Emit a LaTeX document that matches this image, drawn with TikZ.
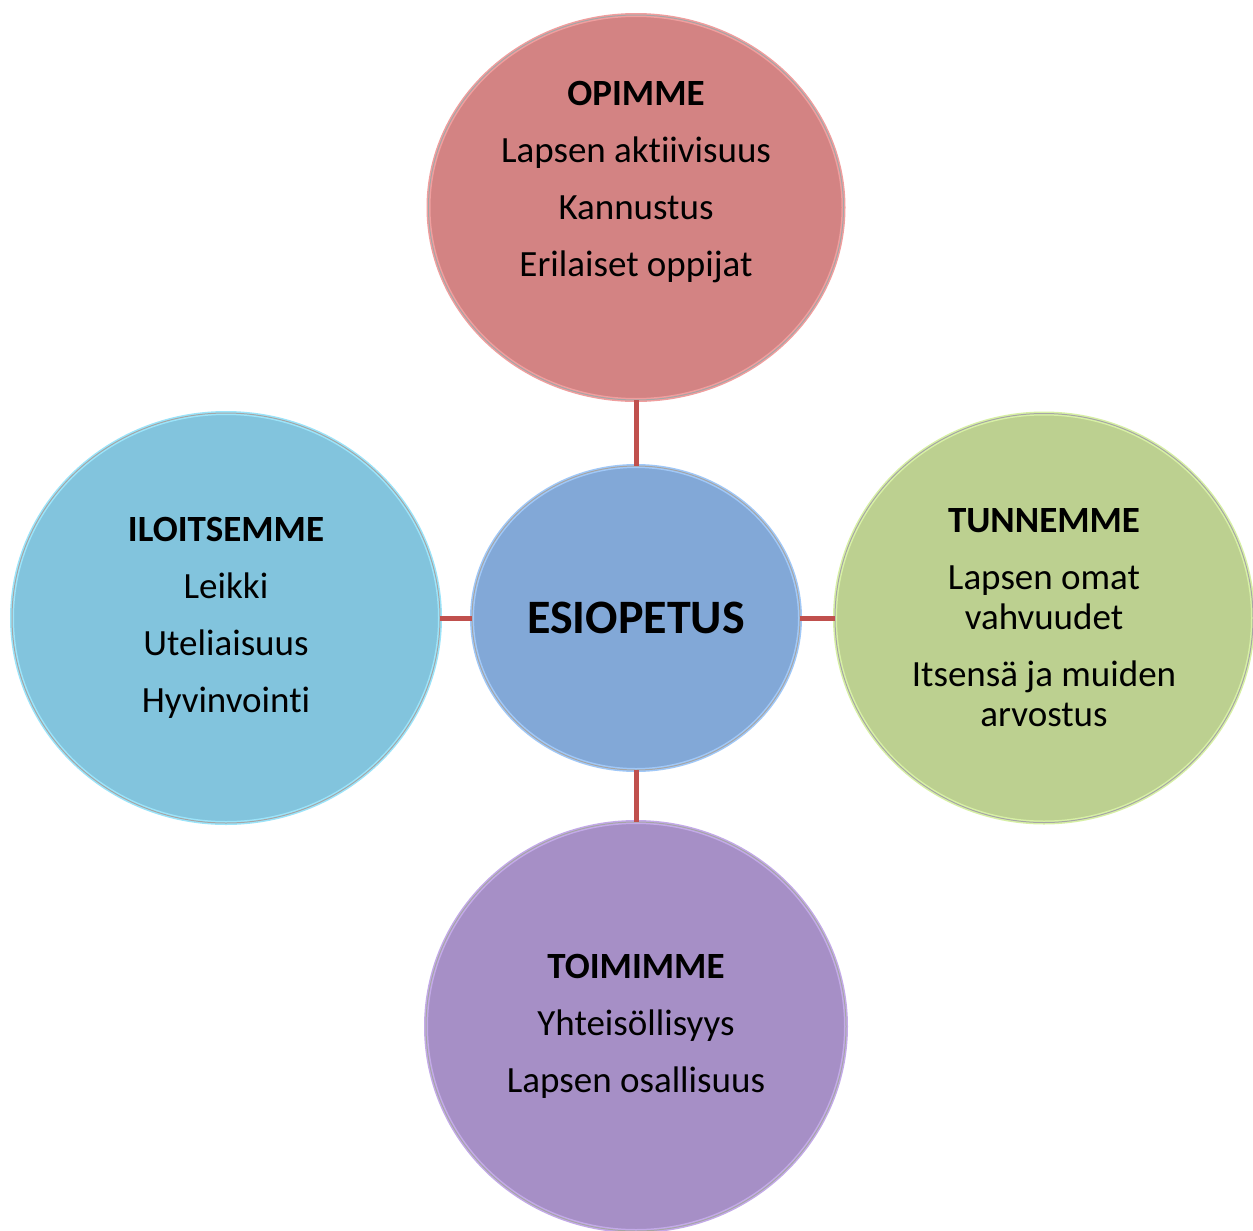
\documentclass[tikz,border=0pt]{standalone}
\usepackage{fontspec}
\setmainfont{Carlito}[Ligatures=NoCommon]
\usetikzlibrary{shapes.geometric,positioning}

\definecolor{opimmefill}{RGB}{211,131,131}
\definecolor{opimmeedge}{RGB}{240,158,158}
\definecolor{esiofill}{RGB}{130,168,215}
\definecolor{esioedge}{RGB}{160,200,248}
\definecolor{iloitfill}{RGB}{130,196,221}
\definecolor{iloitedge}{RGB}{155,228,250}
\definecolor{tunnefill}{RGB}{188,208,144}
\definecolor{tunneedge}{RGB}{215,240,165}
\definecolor{toimifill}{RGB}{166,143,198}
\definecolor{toimiedge}{RGB}{195,170,232}
\definecolor{linkred}{RGB}{192,80,77}

\begin{document}
\begin{tikzpicture}[node distance=16pt]
  \tikzstyle{bubble}=[ellipse,inner sep=0pt,outer sep=0pt,align=center,
    line width=2pt,font=\fontsize{18.5}{20}\selectfont]
  \tikzstyle{rim}=[postaction={draw=black!35,line width=0.5pt}]
  \tikzstyle{link}=[draw=linkred,line width=2.5pt]

  \useasboundingbox (0,0) rectangle (626.5pt,-615.5pt);

    \node [bubble,rim,fill=esiofill,draw=esioedge,minimum width=164pt,minimum height=152pt,
        font=\fontsize{24}{28}\selectfont\bfseries] (esiopetus) at (318pt,-309pt) {ESIOPETUS}; %keskus
    \node [bubble,rim,fill=opimmefill,draw=opimmeedge,minimum width=207.5pt,minimum height=192.5pt]
        (opimme) [above=33pt of esiopetus]
        {\textbf{OPIMME}\\[8.5pt]Lapsen aktiivisuus\\[8.5pt]Kannustus\\[8.5pt]Erilaiset oppijat\\[8.5pt]~};
    \node [bubble,rim,fill=iloitfill,draw=iloitedge,minimum width=214pt,minimum height=205pt]
        (iloitsemme) [left=16pt of esiopetus]
        {\textbf{ILOITSEMME}\\[8.5pt]Leikki\\[8.5pt]Uteliaisuus\\[8.5pt]Hyvinvointi};
    \node [bubble,rim,fill=tunnefill,draw=tunneedge,minimum width=209pt,minimum height=204.5pt]
        (tunnemme) [right=17.5pt of esiopetus]
        {\textbf{TUNNEMME}\\[8.5pt]Lapsen omat\\vahvuudet\\[8.5pt]Itsensä ja muiden\\arvostus};
    \node [bubble,rim,fill=toimifill,draw=toimiedge,minimum width=210pt,minimum height=204.5pt]
        (toimimme) [below=26pt of esiopetus]
        {\textbf{TOIMIMME}\\[8.5pt]Yhteisöllisyys\\[8.5pt]Lapsen osallisuus};

    \draw [link] (opimme) -- (esiopetus);
    \draw [link] (iloitsemme) -- (esiopetus);
    \draw [link] (tunnemme) -- (esiopetus);
    \draw [link] (toimimme) -- (esiopetus);
\end{tikzpicture}
\end{document}
